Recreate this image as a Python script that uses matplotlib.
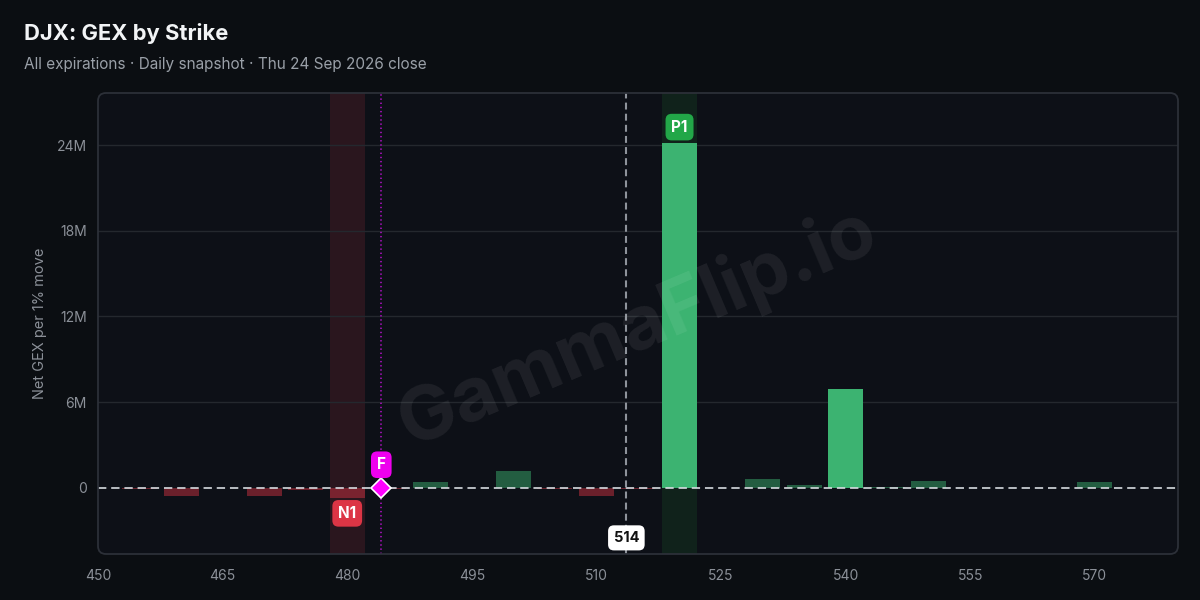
import matplotlib
matplotlib.use("Agg")
import matplotlib.pyplot as plt
from matplotlib.patches import FancyBboxPatch
from matplotlib.ticker import FuncFormatter
import matplotlib.transforms as mtransforms

plt.rcParams['font.family'] = ['Inter', 'DejaVu Sans']
plt.rcParams['lines.scale_dashes'] = False

# ---- data ----
strikes = [455, 460, 470, 475, 480, 485, 490, 500, 505, 510, 515, 520, 525, 530, 535, 540, 545, 550, 570]
gex_m = [-0.1, -0.6, -0.6, -0.15, -0.73, -0.08, 0.4, 1.15, -0.12, -0.58, -0.1, 24.15,
         -0.05, 0.6, 0.22, 6.92, 0.08, 0.46, 0.4]
spot = 513.6
flip = 484.1
spot_label = "514"
p1_strike = 520
n1_strike = 480
x_ticks = [450, 465, 480, 495, 510, 525, 540, 555, 570]
y_ticks = [0, 6, 12, 18, 24]
title = "DJX: GEX by Strike"
subtitle = "All expirations \u00b7 Daily snapshot \u00b7 Thu 24 Sep 2026 close"
ylabel = "Net GEX per 1% move"
watermark = "GammaFlip.io"

# ---- style ----
fig_bg = '#0b0e12'
ax_bg = '#0d1017'
green = '#3cb371'
red = '#dc3545'
bar_w = 4.2

fig = plt.figure(figsize=(12, 6), dpi=100, facecolor=fig_bg)
L, R, T, B = 98, 1178, 93, 554
W, H = 1200, 600
ax = fig.add_axes([L / W, 1 - B / H, (R - L) / W, (B - T) / H])
ax.set_facecolor('none')
for s in ax.spines.values():
    s.set_visible(False)

# rounded panel background and border
bg = FancyBboxPatch((L, H - B), R - L, B - T, boxstyle="round,pad=0,rounding_size=8",
                    transform=None, facecolor=ax_bg, edgecolor='none', zorder=-5)
fig.patches.append(bg)
border = FancyBboxPatch((L, H - B), R - L, B - T, boxstyle="round,pad=0,rounding_size=8",
                        transform=None, facecolor='none', edgecolor='#2c3038', linewidth=1.3,
                        zorder=10)
fig.patches.append(border)

ax.set_xlim(450, 580)
ax.set_ylim(-4.65, 27.66)

# highlight bands
ax.axvspan(n1_strike - bar_w / 2, n1_strike + bar_w / 2, color='#2a161e', zorder=0.5, lw=0)
ax.axvspan(p1_strike - bar_w / 2, p1_strike + bar_w / 2, color='#10221b', zorder=0.5, lw=0)

# grid
for yt in y_ticks[1:]:
    ax.axhline(yt, color='#24282e', lw=1, zorder=0.6)

# bars
maxabs = max(abs(v) for v in gex_m)
for x, v in zip(strikes, gex_m):
    if v >= 0:
        if v >= 0.2 * maxabs:
            ax.bar(x, v, width=bar_w, color=green, zorder=2, lw=0)
        else:
            ax.bar(x, v, width=bar_w, color=green, alpha=0.48, zorder=2, lw=0)
    else:
        ax.bar(x, v, width=bar_w, color=red, alpha=0.45, zorder=2, lw=0)

# zero line
ax.axhline(0, color='#d6dbe0', lw=1.2, linestyle=(0, (6, 3.5)), zorder=3)

# spot line
ax.axvline(spot, color='#8e939b', lw=1.5, linestyle=(0, (5, 3)), zorder=3)
# flip line
ax.axvline(flip, color='#a012b4', lw=1.3, linestyle=(0, (1, 2)), zorder=3)
ax.plot([flip], [0], marker='D', markersize=10, markerfacecolor='#ff00ff',
        markeredgecolor='white', markeredgewidth=1.2, zorder=6, clip_on=False)

# labels
box = 'round,pad=0.38,rounding_size=0.4'
p1_val = gex_m[strikes.index(p1_strike)]
n1_val = gex_m[strikes.index(n1_strike)]
ax.annotate("P1", xy=(p1_strike, p1_val), xytext=(0, 11.5), textcoords='offset points',
            ha='center', va='center', color='white', fontsize=11, fontweight='bold', zorder=7,
            bbox=dict(boxstyle=box, fc='#22a748', ec='none'))
ax.annotate("N1", xy=(n1_strike, n1_val), xytext=(0, -11), textcoords='offset points',
            ha='center', va='center', color='white', fontsize=11, fontweight='bold', zorder=7,
            bbox=dict(boxstyle=box, fc='#dc3545', ec='none'))
ax.annotate("F", xy=(flip, 0), xytext=(0, 16.5), textcoords='offset points',
            ha='center', va='center', color='white', fontsize=11, fontweight='bold', zorder=7,
            bbox=dict(boxstyle=box, fc='#ee00ee', ec='none'))
trans = mtransforms.blended_transform_factory(ax.transData, ax.transAxes)
ax.text(spot, 0.035, spot_label, transform=trans, ha='center', va='center', color='#111111',
        fontsize=10.5, fontweight='bold', zorder=7,
        bbox=dict(boxstyle=box, fc='white', ec='none'))

# watermark
ax.text(0.5, 0.49, watermark, transform=ax.transAxes, ha='center', va='center',
        rotation=23, fontsize=55, fontweight='bold', color='white', alpha=0.07, zorder=5)

# ticks
ax.set_xticks(x_ticks)
ax.set_yticks(y_ticks)
ax.yaxis.set_major_formatter(FuncFormatter(lambda v, p: "0" if v == 0 else f"{v:g}M"))
ax.tick_params(axis='both', length=0, colors='#8b9098', labelsize=10)
ax.tick_params(axis='y', pad=8)
ax.tick_params(axis='x', pad=11)

fig.text(40 / W, 1 - 323.5 / H, ylabel, rotation=90, ha='center', va='center',
         color='#8b9098', fontsize=10.5)
fig.text(24 / W, 1 - 34 / H, title, ha='left', va='center', color='#f2f4f6',
         fontsize=15.8, fontweight='bold')
fig.text(24 / W, 1 - 64 / H, subtitle, ha='left', va='center', color='#9aa0a8',
         fontsize=11.05)

fig.savefig("out.png", dpi=100, facecolor=fig_bg)
